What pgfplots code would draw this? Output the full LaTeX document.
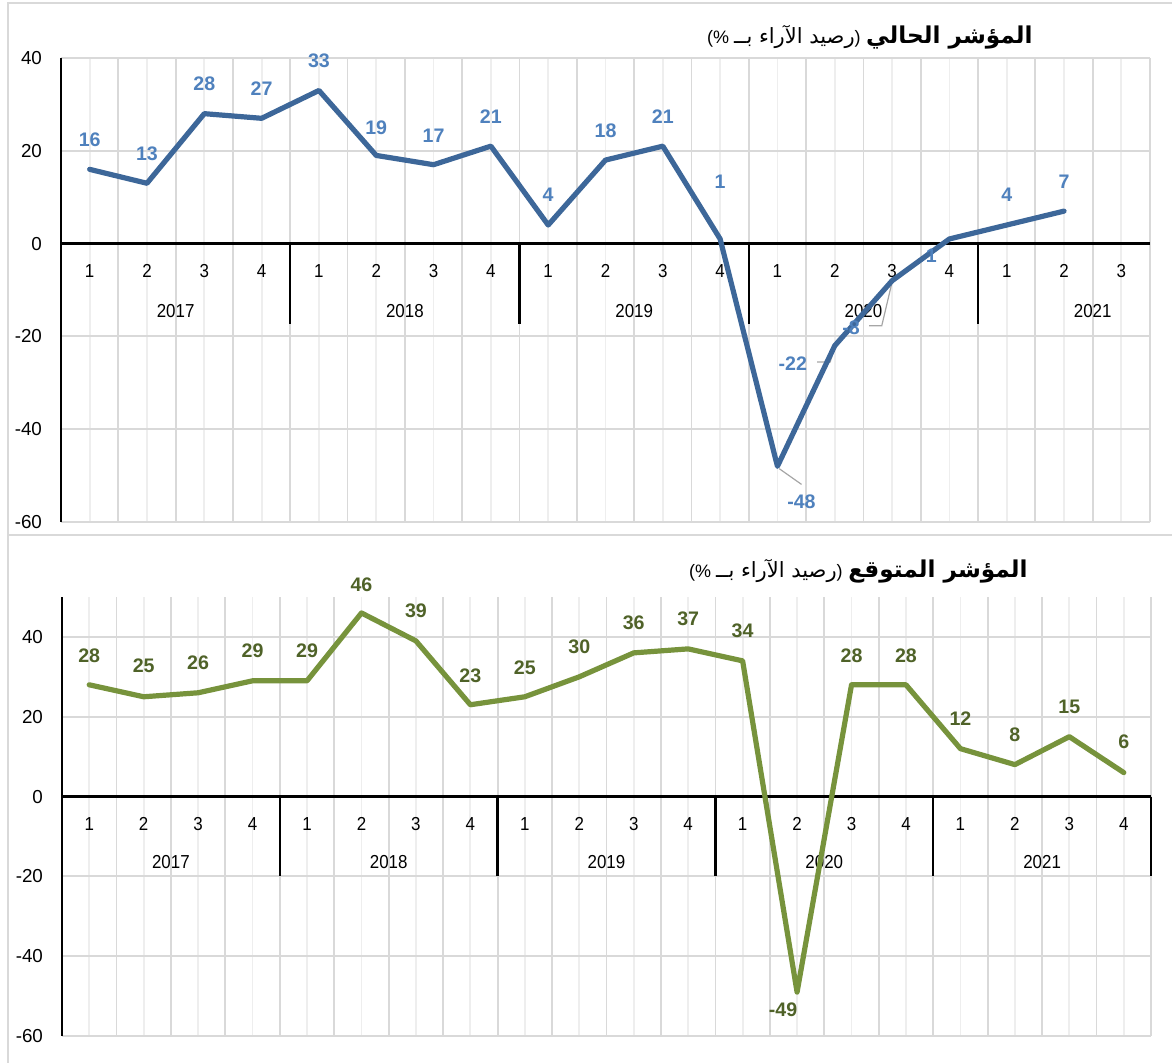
\documentclass[border=0pt]{standalone}
\usepackage{pgfplots}
\pgfplotsset{compat=1.18}
\usepackage{pgfplotstable}
\usepackage{fontspec}
\setmainfont{Liberation Sans}
\newfontfamily\narrowfont[FakeStretch=0.9]{Liberation Sans}
\newfontfamily\arabicfont[Script=Arabic]{DejaVu Sans}
\TeXXeTstate=1
\definecolor{topline}{RGB}{61,103,153}
\definecolor{toplab}{RGB}{79,129,189}
\definecolor{botline}{RGB}{119,147,60}
\definecolor{botlab}{RGB}{79,98,40}
\definecolor{gridA}{RGB}{217,217,217}
\definecolor{gridB}{RGB}{238,238,238}
\definecolor{framec}{RGB}{217,217,217}
\definecolor{leader}{RGB}{166,166,166}

\pgfplotstableread{
x y lab dx dy
0 16 16 0 15
1 13 13 0 15
2 28 28 0 15
3 27 27 0 15
4 33 33 0 15
5 19 19 0 14
6 17 17 0 14.5
7 21 21 0 14.5
8 4 4 0 15
9 18 18 0 14.5
10 21 21 0 14.5
11 1 1 0 28.5
12 -48 -48 12 -17.5
13 -22 -22 -21 -9
14 -8 -8 -20.5 -23.5
15 1 1 -9 -8.5
16 4 4 0 15
17 7 7 0 14.5
}\topdata

\pgfplotstableread{
x y lab dx dy
0 28 28 0 14.5
1 25 25 0 15.5
2 26 26 0 15
3 29 29 0 15
4 29 29 0 15
5 46 46 0 14
6 39 39 0 15
7 23 23 0 14.5
8 25 25 0 14.5
9 30 30 0 15
10 36 36 0 15
11 37 37 0 15
12 34 34 0 15
13 -49 -49 -7 -9
14 28 28 0 14.5
15 28 28 0 14.5
16 12 12 0 15
17 8 8 0 15
18 15 15 0 15
19 6 6 0 15.5
}\botdata

\pgfplotsset{
  panel/.style={
    scale only axis,
    width=544.5pt,
    xmin=-0.5,
    axis line style={draw=none},
    xticklabels={},
    major tick length=0pt,
    minor tick length=0pt,
    grid=both,
    major grid style={gridA, line width=0.9pt},
    minor grid style={gridB, line width=0.9pt},
    /pgf/number format/assume math mode=true,
    yticklabel style={font=\fontsize{9.4}{10}\selectfont, xshift=-6pt},
    clip=false,
  },
}
\tikzset{
  qlab/.style={font=\narrowfont\fontsize{9.4}{10}\selectfont, inner sep=0pt, yshift=-13.5pt},
  ylab/.style={font=\narrowfont\fontsize{9.4}{10}\selectfont, inner sep=0pt},
}
\newcommand{\paren}{{\fontsize{9}{10}\selectfont (\%\ {\arabicfont\fontsize{10.5}{12}\selectfont\beginR رصيد الآراء بــ\endR})}}

\begin{document}
\begin{tikzpicture}
\path[use as bounding box] (0,0) rectangle (586pt,531.5pt);
\draw[framec, line width=0.8pt] (4pt,264pt) rectangle (600pt,530pt);
\draw[framec, line width=0.8pt] (4pt,-5pt) rectangle (600pt,264pt);

% ---------- top panel ----------
\begin{axis}[panel,
  at={(30.5pt,270.5pt)}, anchor=south west,
  height=232pt,
  xmax=18.5, ymin=-60, ymax=40,
  ytick={-60,-40,-20,0,20,40},
  xtick={0.5,1.5,...,18.5},
  minor xtick={0,...,18},
]
\draw[black, line width=1.2pt] (rel axis cs:0,0) -- (rel axis cs:0,1);
\draw[black, line width=1.2pt] (axis cs:-0.5,0) -- (axis cs:18.5,0);
\pgfplotsinvokeforeach{3.5,7.5,11.5,15.5}{
  \draw[black, line width=1.2pt] (axis cs:#1,0) -- ++(0pt,-40pt);
}
\pgfplotsinvokeforeach{0,...,18}{
  \node[qlab] at (axis cs:#1,0) {\pgfmathparse{int(mod(#1,4)+1)}\pgfmathresult};
}
\node[ylab, yshift=-33.5pt] at (axis cs:1.5,0) {2017};
\node[ylab, yshift=-33.5pt] at (axis cs:5.5,0) {2018};
\node[ylab, yshift=-33.5pt] at (axis cs:9.5,0) {2019};
\node[ylab, yshift=-33.5pt] at (axis cs:13.5,0) {2020};
\node[ylab, yshift=-33.5pt] at (axis cs:17.5,0) {2021};
\draw[leader, line width=0.6pt] (axis cs:12.03,-48.5) -- (axis cs:12.42,-51.9);
\draw[leader, line width=0.6pt] (axis cs:12.69,-25.5) -- (axis cs:12.92,-25.5) -- (axis cs:13,-22.3);
\draw[leader, line width=0.6pt] (axis cs:13.6,-17.7) -- (axis cs:13.82,-17.7) -- (axis cs:14,-8.3);
\addplot[topline, line width=2.6pt, line join=round, line cap=round, mark=none,
  point meta=explicit symbolic,
  nodes near coords,
  visualization depends on={\thisrow{dx}\as\dx},
  visualization depends on={\thisrow{dy}\as\dy},
  every node near coord/.append style={font=\bfseries\fontsize{9.8}{11}\selectfont, text=toplab, anchor=center, xshift=\dx, yshift=\dy},
] table[x=x, y=y, meta=lab] {\topdata};
\end{axis}

% ---------- bottom panel ----------
\begin{axis}[panel,
  at={(31pt,13.5pt)}, anchor=south west,
  height=219.5pt,
  xmax=19.5, ymin=-60, ymax=50,
  ytick={-60,-40,-20,0,20,40},
  xtick={0.5,1.5,...,19.5},
  minor xtick={0,...,19},
]
\draw[black, line width=1.2pt] (rel axis cs:0,0) -- (rel axis cs:0,1);
\draw[black, line width=1.2pt] (axis cs:-0.5,0) -- (axis cs:19.5,0);
\pgfplotsinvokeforeach{3.5,7.5,11.5,15.5,19.5}{
  \draw[black, line width=1.2pt] (axis cs:#1,0) -- ++(0pt,-39.5pt);
}
\pgfplotsinvokeforeach{0,...,19}{
  \node[qlab] at (axis cs:#1,0) {\pgfmathparse{int(mod(#1,4)+1)}\pgfmathresult};
}
\node[ylab, yshift=-32.5pt] at (axis cs:1.5,0) {2017};
\node[ylab, yshift=-32.5pt] at (axis cs:5.5,0) {2018};
\node[ylab, yshift=-32.5pt] at (axis cs:9.5,0) {2019};
\node[ylab, yshift=-32.5pt] at (axis cs:13.5,0) {2020};
\node[ylab, yshift=-32.5pt] at (axis cs:17.5,0) {2021};
\addplot[botline, line width=2.6pt, line join=round, line cap=round, mark=none,
  point meta=explicit symbolic,
  nodes near coords,
  visualization depends on={\thisrow{dx}\as\dx},
  visualization depends on={\thisrow{dy}\as\dy},
  every node near coord/.append style={font=\bfseries\fontsize{9.8}{11}\selectfont, text=botlab, anchor=center, xshift=\dx, yshift=\dy},
] table[x=x, y=y, meta=lab] {\botdata};
\end{axis}

% ---------- titles ----------
\node[anchor=east, inner sep=0pt] at (516.5pt,513pt)
  {\paren\ {\arabicfont\bfseries\fontsize{11.6}{13}\selectfont\beginR المؤشر الحالي\endR}};
\node[anchor=east, inner sep=0pt] at (514pt,246pt)
  {\paren\ {\arabicfont\bfseries\fontsize{11.6}{13}\selectfont\beginR المؤشر المتوقع\endR}};
\end{tikzpicture}
\end{document}
